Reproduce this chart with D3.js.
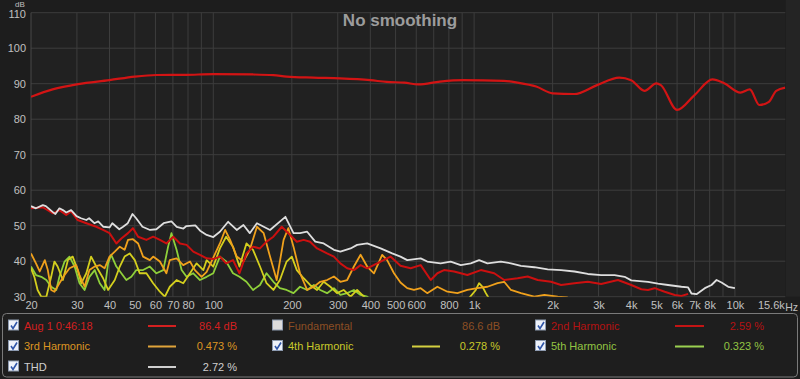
<!DOCTYPE html>
<html><head><meta charset="utf-8">
<script src="https://cdn.jsdelivr.net/npm/d3@7"></script>
<style>
html,body{margin:0;padding:0;background:#1d1d1d;}
svg{display:block;font-family:"Liberation Sans",Arial,sans-serif;}
</style></head><body>
<svg id="chart" width="800" height="379"></svg>
<script>
// ---------- axis data ----------
const xTickValues = [20,30,40,50,60,70,80,100,200,300,400,500,600,800,1000,2000,3000,4000,5000,6000,7000,8000,10000,15600];
const xTickLabels = ["20","30","40","50","60","70","80","100","200","300","400","500","600","800","1k","2k","3k","4k","5k","6k","7k","8k","10k","15.6k"];
const xGridValues = [30,40,50,60,70,80,90,100,200,300,400,500,600,700,800,900,1000,2000,3000,4000,5000,6000,7000,8000,9000,10000];
const yTickValues = [30,40,50,60,70,80,90,100,110];

// ---------- series data [Hz, dB] ----------
const measurement = [[20,86.3],[24.2,88.4],[30.3,89.9],[40,91.0],[50,92.0],[60.6,92.45],[78.5,92.5],[100,92.7],[142,92.6],[170,92.4],[191,92.0],[242,91.7],[306,91.5],[400,91.0],[462,90.5],[540,90.3],[611,89.8],[740,90.6],[910,91.0],[1300,90.8],[1470,90.3],[1730,89.2],[2000,87.3],[2420,87.1],[2960,89.6],[3600,91.7],[4000,91.0],[4500,88.0],[5000,90.1],[5200,89.6],[6000,82.6],[7000,86.8],[8200,91.2],[9100,90.1],[10500,87.5],[11400,88.4],[12400,84.0],[13500,84.9],[14400,88.0],[15600,88.9]];

const thd = [[20,55.5],[20.9,54.9],[22.2,55.8],[22.8,55.5],[24.2,53.9],[24.8,53.3],[25.7,54.9],[26.5,54.4],[27.3,53.7],[28.5,54.4],[29.9,52.7],[31.1,52.1],[32.6,51.6],[33.4,52.1],[35,50.7],[36.2,51.2],[37.9,49.7],[40,49.5],[41,50.7],[43.6,49.0],[45.1,49.7],[47,50.7],[49,53.3],[50.6,52.1],[53.5,49.7],[57.2,48.8],[60.5,49.0],[64.5,50.7],[69.1,51.2],[72.4,49.7],[76.8,49.2],[78.9,49.9],[85.3,50.1],[89,48.6],[94.3,47.4],[100,46.8],[106,48.3],[114,51.1],[123,48.8],[130.5,50.2],[138,47.9],[147,50.7],[165,48.8],[189,52.5],[203,47.9],[215,47.9],[229,48.3],[246,45.5],[265,45.0],[290,43.2],[307,42.7],[336,43.6],[356,44.6],[389,45.0],[438,43.6],[485,42.2],[522,41.3],[554,40.3],[624,40.8],[661,39.9],[744,39.4],[813,39.9],[889,38.9],[971,39.4],[1045,40.3],[1125,39.4],[1266,39.9],[1384,39.4],[1512,38.7],[1701,38.3],[1915,37.7],[2155,37.5],[2425,37.1],[2729,36.4],[3070,36.1],[3455,36.1],[3776,35.6],[4005,34.6],[4640,34.2],[5072,33.7],[5540,33.3],[6234,32.8],[6615,32.6],[6813,30.9],[7122,30.7],[7667,32.4],[8133,33.3],[8503,34.7],[8886,34.0],[9426,32.8],[10000,32.4]];

const h2 = [[20,54.9],[22.2,55.2],[24.3,53.5],[25.7,54.4],[27.3,53.0],[28.5,54.0],[30.2,51.6],[32.6,50.7],[35.6,49.7],[37.8,48.8],[40,47.9],[42.5,45.0],[44.4,46.4],[47.1,47.9],[49.2,49.3],[51.5,46.9],[55.4,46.0],[58.8,46.9],[62.4,46.0],[66.1,45.0],[70.2,46.9],[74.5,45.0],[79,44.6],[83.8,42.7],[88.9,41.8],[94.3,40.8],[100,40.6],[106,41.3],[112,39.4],[119,40.3],[126,36.6],[134,42.2],[142,44.1],[151,43.6],[160,45.5],[170,46.9],[183,49.7],[197,47.4],[209,45.5],[222,46.0],[235,45.5],[250,43.6],[273,42.2],[290,41.3],[307,39.4],[326,38.0],[346,37.5],[367,38.9],[389,38.0],[438,39.9],[478,41.3],[522,38.7],[571,38.0],[624,38.9],[682,34.7],[723,36.6],[767,37.5],[838,37.1],[942,36.1],[1061,37.5],[1194,36.6],[1304,34.7],[1468,35.2],[1604,35.7],[1753,34.7],[1972,34.2],[2155,33.3],[2425,33.8],[2729,34.2],[3070,33.6],[3560,34.7],[4005,33.3],[4375,32.1],[4640,31.9],[4923,32.4],[5378,31.4],[5880,30.5],[6234,30.2],[6615,30.8]];

const h3 = [[20,42.2],[20.9,39.4],[21.6,37.1],[22.6,40.3],[23.2,37.5],[23.9,31.9],[24.6,31.4],[25.7,33.8],[26.9,36.1],[28.1,38.0],[29.8,38.9],[30.7,36.1],[32.1,32.8],[33.5,37.5],[35.1,38.5],[36.7,38.9],[38.3,38.0],[40,41.3],[41.9,42.7],[43.8,44.1],[45.7,43.2],[47.1,46.0],[49.2,46.2],[51.5,45.0],[53.8,41.3],[57.1,40.3],[58.8,41.3],[62.4,39.9],[66.1,36.6],[68.1,40.3],[72.3,40.8],[76.7,38.9],[81.4,39.9],[85,37.5],[90.2,35.6],[94.3,37.0],[100,41.0],[106,45.0],[111,48.8],[116,46.0],[123,41.3],[130.5,39.9],[138,43.2],[147,49.7],[156,47.9],[165,41.3],[175,34.7],[186,46.0],[194,49.3],[203,44.1],[215,36.6],[229,31.9],[243,32.8],[257,34.2],[273,34.7],[290,35.7],[307,34.2],[326,34.7],[346,38.5],[367,41.8],[389,38.5],[413,36.6],[444,41.8],[464,40.3],[493,36.6],[522,34.0],[554,32.4],[588,31.9],[624,32.4],[661,31.0],[723,32.8],[790,31.4],[863,31.0],[942,31.9],[1030,32.4],[1125,32.8],[1230,33.8],[1304,34.2],[1384,31.9],[1512,31.0],[1701,30.0],[1859,30.5],[2092,30.0],[2286,29.8]];

const h4 = [[20,38.0],[20.6,35.6],[21.2,31.9],[21.9,30.0],[22.9,30.0],[23.9,35.6],[24.6,39.9],[25.3,38.5],[26.5,34.7],[27.7,40.3],[28.9,41.3],[30.2,37.5],[31.2,33.8],[32.6,36.6],[34,41.3],[35.6,38.5],[37.8,35.2],[39.5,31.9],[41.9,34.7],[43.8,38.5],[45.7,41.3],[47.8,42.2],[50,40.3],[52.2,36.6],[55.4,36.6],[58.8,33.8],[62.4,31.4],[65.2,30.0],[68.1,32.8],[72.3,34.7],[76.7,33.8],[81.4,36.6],[86.3,39.4],[91.6,37.5],[94.3,40.3],[100,38.5],[106,43.6],[112,46.9],[119,44.1],[126,38.5],[134,45.0],[142,43.2],[151,38.5],[160,33.8],[170,31.9],[180,34.7],[191,39.9],[200,41.3],[209,37.5],[222,35.2],[235,33.3],[250,31.9],[265,34.2],[281,32.8],[298,31.0],[316,31.9],[336,30.0],[356,31.9],[378,30.0],[400,28.0],[942,29.0],[1015,31.9],[1045,33.8],[1077,32.8],[1109,31.0],[1141,29.5]];

const h5 = [[20,38.5],[20.9,36.1],[21.9,35.6],[22.9,34.7],[23.9,32.8],[25,31.9],[25.7,35.6],[26.9,39.9],[28.1,41.3],[29.4,38.5],[30.7,33.8],[32.1,31.9],[33.5,35.6],[35.1,37.5],[36.7,33.8],[38.3,31.9],[39.5,39.4],[40.6,41.8],[42.5,38.5],[44.4,36.6],[46.4,34.7],[48.5,35.6],[50.7,37.5],[53.8,37.5],[57.1,38.5],[60.5,36.6],[64.3,37.5],[67.1,44.1],[69.1,47.9],[72.3,43.2],[75.6,37.5],[79,35.6],[83.8,36.6],[88.9,34.7],[94.3,35.6],[100,36.6],[106,41.3],[112,39.9],[119,36.6],[126,35.6],[134,34.2],[142,31.9],[151,33.3],[160,36.6],[170,34.2],[180,32.4],[191,31.9],[203,31.0],[215,32.8],[229,31.9],[243,33.3],[257,31.9],[273,31.0],[290,32.4],[307,30.5],[326,31.0],[346,31.9],[367,30.5],[389,30.0],[420,28.0]];

// ---------- legend data ----------
const legendNames  = ["Aug 1 0:46:18","Fundamental","2nd Harmonic","3rd Harmonic","4th Harmonic","5th Harmonic","THD"];
const legendValues = ["86.4 dB","86.6 dB","2.59 %","0.473 %","0.278 %","0.323 %","2.72 %"];
const legendChecked = [true,false,true,true,true,true,true];

// ---------- drawing ----------
const svg = d3.select("#chart");
const W = 800, H = 379;
const plot = {left:31, right:785.3, top:12.7, bottom:296.7};

const x = d3.scaleLog().domain([20,15600]).range([plot.left, plot.right]);
const y = d3.scaleLinear().domain([30,110]).range([plot.bottom, plot.top]);

svg.append("rect").attr("width",W).attr("height",H).attr("fill","#1d1d1d");
svg.append("rect").attr("x",plot.right+0.5).attr("y",0).attr("width",W-plot.right).attr("height",plot.bottom)
  .attr("fill","#242424");
svg.append("rect").attr("x",plot.left).attr("y",plot.top)
  .attr("width",plot.right-plot.left).attr("height",plot.bottom-plot.top).attr("fill","#212121");

// grid
const grid = svg.append("g");
grid.selectAll("line.v").data(xGridValues).enter().append("line")
  .attr("x1",d=>x(d)).attr("x2",d=>x(d)).attr("y1",plot.top).attr("y2",plot.bottom)
  .attr("stroke","#3d3d3d").attr("stroke-width",1);
grid.selectAll("line.h").data(yTickValues).enter().append("line")
  .attr("x1",plot.left).attr("x2",plot.right).attr("y1",d=>y(d)).attr("y2",d=>y(d))
  .attr("stroke","#3d3d3d").attr("stroke-width",1);
grid.append("line").attr("x1",plot.left).attr("x2",plot.left).attr("y1",plot.top).attr("y2",plot.bottom)
  .attr("stroke","#484848");

// axes via d3
const yAxis = d3.axisLeft(y).tickValues(yTickValues).tickSize(0).tickPadding(5);
const gy = svg.append("g").attr("transform",`translate(${plot.left},0)`).call(yAxis);
gy.select(".domain").remove();
gy.selectAll("text").attr("fill","#c0c0c0").style("font-size","11px");
// top label sits just under the unit label
gy.selectAll(".tick").filter(d=>d===110).select("text").attr("y",1.5);

const xAxis = d3.axisBottom(x).tickValues(xTickValues).tickFormat((d,i)=>xTickLabels[i]).tickSize(0).tickPadding(5);
const gx = svg.append("g").attr("transform",`translate(0,${plot.bottom})`).call(xAxis);
gx.select(".domain").remove();
gx.selectAll("text").attr("fill","#c0c0c0").style("font-size","11px");
// last label sits left of the edge, followed by the unit
gx.selectAll(".tick").filter(d=>d===15600).select("text").attr("text-anchor","end").attr("x",-1);

svg.append("text").attr("x",798).attr("y",plot.bottom+14).attr("text-anchor","end").text("Hz")
  .attr("fill","#c0c0c0").style("font-size","10.5px");
svg.append("text").attr("x",20).attr("y",7.2).attr("text-anchor","middle").text("dB")
  .attr("fill","#c0c0c0").style("font-size","8px");

svg.append("text").attr("x",400).attr("y",26).attr("text-anchor","middle").text("No smoothing")
  .attr("fill","#9c9c9c").style("font-size","17px").style("font-weight","bold");

// clip
svg.append("clipPath").attr("id","clip").append("rect")
  .attr("x",plot.left).attr("y",plot.top).attr("width",plot.right-plot.left).attr("height",plot.bottom-plot.top);

const lineSmooth = d3.line().x(d=>x(d[0])).y(d=>y(d[1])).curve(d3.curveMonotoneX);
const lineRaw = d3.line().x(d=>x(d[0])).y(d=>y(d[1])).curve(d3.curveLinear);
const traces = svg.append("g").attr("clip-path","url(#clip)");
const series = [
  {data:h5, color:"#8fd03a", w:1.8, gen:lineRaw},
  {data:h4, color:"#d4cf1e", w:1.8, gen:lineRaw},
  {data:h3, color:"#f0a11c", w:1.8, gen:lineRaw},
  {data:h2, color:"#cc1010", w:2.0, gen:lineRaw},
  {data:thd, color:"#dedede", w:1.8, gen:lineRaw},
  {data:measurement, color:"#d21414", w:2.2, gen:lineSmooth}
];
series.forEach(s=>{
  traces.append("path").attr("d",s.gen(s.data)).attr("fill","none")
    .attr("stroke",s.color).attr("stroke-width",s.w).attr("stroke-linejoin","round");
});

// legend
svg.append("rect").attr("x",2.5).attr("y",313.5).attr("width",795).attr("height",63.5).attr("rx",4)
  .attr("fill","#1e1e1e").attr("stroke","#7a7a7a").attr("stroke-width",1);

const legendText  = ["#d42020","#8c4e24","#b51212","#dc9522","#c9c92a","#93c443","#cfcfcf"];
const legendLine  = ["#d42020",null,"#c41414","#e0a43a","#d4d040","#9ad050","#cfcfcf"];
const cols = [{cb:8, lx:24, l1:148, l2:176, vx:237},{cb:272, lx:288, l1:412, l2:440, vx:500},{cb:535, lx:551, l1:675, l2:704, vx:764}];
const rows = [325.5, 346, 366.5];
legendNames.forEach((name,i)=>{
  const c = cols[i%3], r = rows[Math.floor(i/3)];
  const g = svg.append("g");
  g.append("rect").attr("x",c.cb+0.5).attr("y",r-5.5).attr("width",10).attr("height",10)
    .attr("fill", legendChecked[i] ? "#eef2fa" : "#dcdcdc").attr("stroke","#8e9bb0");
  if (legendChecked[i]) {
    g.append("path").attr("d",`M${c.cb+3},${r} L${c.cb+5},${r+3} L${c.cb+9},${r-3.5}`)
      .attr("fill","none").attr("stroke","#2f55a8").attr("stroke-width",1.6);
  }
  g.append("text").attr("x",c.lx).attr("y",r+4).text(name).attr("fill",legendText[i]).style("font-size","11px");
  if (legendLine[i]) {
    g.append("line").attr("x1",c.l1).attr("x2",c.l2).attr("y1",r+0.5).attr("y2",r+0.5)
      .attr("stroke",legendLine[i]).attr("stroke-width",2);
  }
  g.append("text").attr("x",c.vx).attr("y",r+4).attr("text-anchor","end").text(legendValues[i])
    .attr("fill",legendText[i]).style("font-size","11px");
});
</script>
</body></html>
